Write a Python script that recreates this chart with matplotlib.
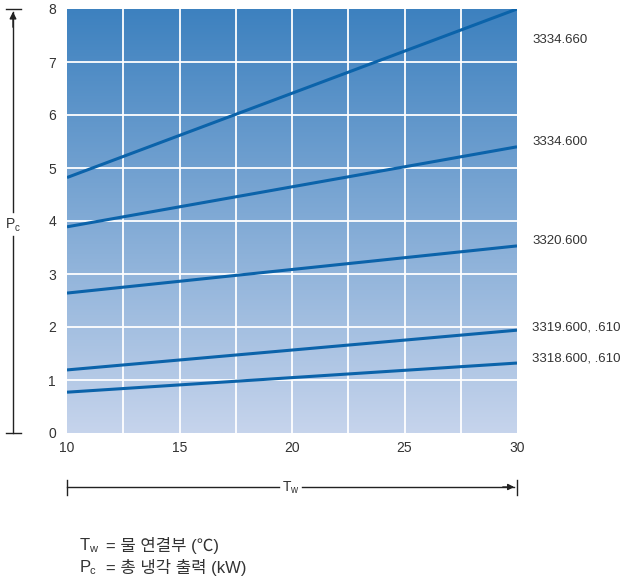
import numpy as np
import matplotlib.pyplot as plt
from matplotlib.colors import LinearSegmentedColormap

plt.rcParams['font.family'] = ['Liberation Sans', 'Noto Sans CJK KR', 'DejaVu Sans']

# data (start at Tw=10, end at Tw=30)
tw = [10, 30]
models = ['3334.660', '3334.600', '3320.600', '3319.600, .610', '3318.600, .610']
pc_start = [4.82, 3.89, 2.64, 1.19, 0.77]
pc_end = [8.0, 5.40, 3.53, 1.94, 1.32]
label_y = [7.42, 5.49, 3.62, 2.0, 1.40]
xticks = [10, 15, 20, 25, 30]
yticks = [0, 1, 2, 3, 4, 5, 6, 7, 8]

W, H = 621, 582
fig = plt.figure(figsize=(W / 100, H / 100), dpi=100)
ax = fig.add_axes([67 / W, (H - 433) / H, 450 / W, 424 / H])

# gradient background
cmap = LinearSegmentedColormap.from_list('bg', ['#c6d4ec', '#3d81bf'])
grad = np.linspace(0, 1, 256).reshape(-1, 1)
ax.imshow(grad, extent=[10, 30, 0, 8], origin='lower', aspect='auto', cmap=cmap, zorder=0)

for v in np.arange(12.5, 30, 2.5):
    ax.axvline(v, color='white', lw=1.3, zorder=1)
for v in range(1, 8):
    ax.axhline(v, color='white', lw=1.3, zorder=1)

for s, e, m, ly in zip(pc_start, pc_end, models, label_y):
    ax.plot(tw, [s, e], color='#0b63aa', lw=2.2, zorder=2, solid_capstyle='butt')
    ax.text(30.68, ly, m, fontsize=9.5, color='#333333', va='center', ha='left')

ax.set_xlim(10, 30)
ax.set_ylim(0, 8)
ax.set_xticks(xticks)
ax.set_yticks(yticks)
ax.tick_params(length=0, labelsize=10, colors='#333333', pad=6)
ax.tick_params(axis='y', pad=8)
for sp in ax.spines.values():
    sp.set_visible(False)

def fx(px):
    return px / W

def fy(py):
    return 1 - py / H

# left arrow (Pc), broken where the label sits
fig.add_artist(plt.Line2D([fx(13), fx(13)], [fy(433), fy(236)], color='#222222', lw=1))
fig.add_artist(plt.Line2D([fx(13), fx(13)], [fy(212), fy(12)], color='#222222', lw=1))
fig.add_artist(plt.Line2D([fx(6), fx(21)], [fy(9), fy(9)], color='#222222', lw=1))
fig.add_artist(plt.Line2D([fx(6), fx(21)], [fy(433), fy(433)], color='#222222', lw=1))
ax.annotate('', xy=(fx(13), fy(9)), xytext=(fx(13), fy(30)), xycoords='figure fraction',
            arrowprops=dict(arrowstyle='-|>', color='#222222', lw=1, mutation_scale=10))
fig.text(fx(6), fy(224), 'P', fontsize=10, color='#333333', va='center', ha='left')
fig.text(fx(15), fy(228), 'c', fontsize=7, color='#333333', va='center', ha='left')

# bottom arrow (Tw), broken where the label sits
fig.add_artist(plt.Line2D([fx(67), fx(279)], [fy(487), fy(487)], color='#222222', lw=1))
fig.add_artist(plt.Line2D([fx(302), fx(514)], [fy(487), fy(487)], color='#222222', lw=1))
fig.add_artist(plt.Line2D([fx(67), fx(67)], [fy(480), fy(495)], color='#222222', lw=1))
fig.add_artist(plt.Line2D([fx(517), fx(517)], [fy(480), fy(495)], color='#222222', lw=1))
ax.annotate('', xy=(fx(517), fy(487)), xytext=(fx(500), fy(487)), xycoords='figure fraction',
            arrowprops=dict(arrowstyle='-|>', color='#222222', lw=1, mutation_scale=9))
fig.text(fx(283), fy(487), 'T', fontsize=10, color='#333333', va='center', ha='left')
fig.text(fx(290), fy(490), 'w', fontsize=7, color='#333333', va='center', ha='left')

# legend text at bottom
fig.text(fx(80), fy(545), 'T', fontsize=12, color='#333333', va='center')
fig.text(fx(89), fy(549), 'w', fontsize=8, color='#333333', va='center')
fig.text(fx(106), fy(545), '= 물 연결부 (℃)', fontsize=12, color='#333333', va='center')
fig.text(fx(80), fy(567), 'P', fontsize=12, color='#333333', va='center')
fig.text(fx(90), fy(571), 'c', fontsize=8, color='#333333', va='center')
fig.text(fx(106), fy(567), '= 총 냉각 출력 (kW)', fontsize=12, color='#333333', va='center')

fig.savefig('out.png', dpi=100)
